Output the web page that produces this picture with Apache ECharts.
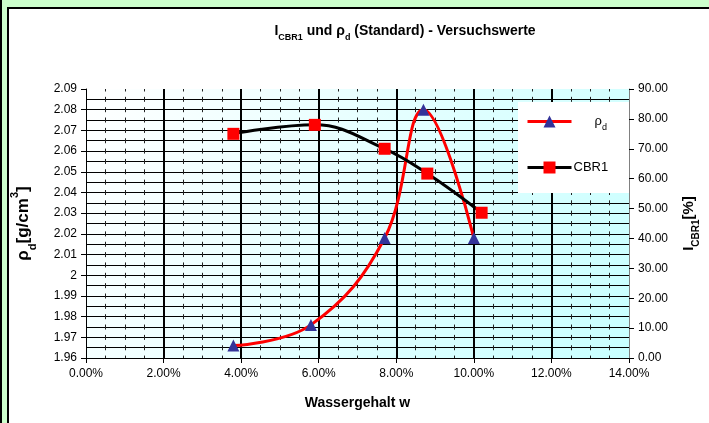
<!DOCTYPE html>
<html><head><meta charset="utf-8">
<script src="https://cdn.jsdelivr.net/npm/echarts@6/dist/echarts.min.js"></script>
<style>html,body{margin:0;padding:0;background:#ccffcc;}#c{width:709px;height:423px;}</style>
</head><body><div id="c"></div>
<script>
// Data (water content in %, density in g/cm3, CBR in %)
const wRho = [3.8, 5.8, 7.7, 8.7, 10.0];
const rho = [1.966, 1.976, 2.018, 2.080, 2.018];
const wCbr = [3.8, 5.9, 7.7, 8.8, 10.2];
const cbr = [75.0, 78.0, 70.0, 61.7, 48.6];
const xTicks = [0, 2, 4, 6, 8, 10, 12, 14];

const font = 'Liberation Sans, Arial, sans-serif';
const chart = echarts.init(document.getElementById('c'));
chart.setOption({
  backgroundColor: '#ccffcc',
  animation: false,
  graphic: [
    {type: 'rect', shape: {x: 0, y: 0, width: 2, height: 423}, style: {fill: '#000'}, z: -10, silent: true},
    {type: 'rect', shape: {x: 8, y: 8, width: 710, height: 430}, style: {fill: '#fff', stroke: '#000', lineWidth: 2}, z: -10, silent: true},
    {type: 'rect', shape: {x: 518, y: 102, width: 111, height: 91}, style: {fill: '#fff'}, z: 50, silent: true}
  ],
  title: {
    text: 'I{s|CBR1} und ρ{s|d} (Standard) - Versuchswerte',
    left: 405, textAlign: 'center', top: 24, padding: 0,
    textStyle: {fontFamily: font, fontWeight: 'bold', fontSize: 14, color: '#000',
      rich: {s: {fontFamily: font, fontWeight: 'bold', fontSize: 9, color: '#000', verticalAlign: 'bottom', padding: [0,0,-4,0]}}}
  },
  legend: [
    {data: ['ρd'], left: 526, top: 115, padding: 0, itemWidth: 44, itemHeight: 15, z: 60,
     lineStyle: {width: 3},
     formatter: () => 'ρ{s|d}',
     textStyle: {fontFamily: font, fontSize: 13, color: '#000', padding: [0,0,0,18],
       rich: {s: {fontFamily: font, fontSize: 9, color: '#000', verticalAlign: 'bottom', padding: [0,0,-4,0]}}}},
    {data: ['CBR1'], left: 526, top: 161, padding: 0, itemWidth: 44, itemHeight: 15, z: 60,
     lineStyle: {width: 3},
     textStyle: {fontFamily: font, fontSize: 13, color: '#000', padding: [0,0,0,-3]}}
  ],
  grid: {left: 86, right: 77, top: 89, bottom: 65, show: true, borderWidth: 0,
    backgroundColor: new echarts.graphic.LinearGradient(0, 0, 1, 1, [{offset: 0, color: '#ffffff'}, {offset: 1, color: '#c8ffff'}])},
  xAxis: {
    type: 'value', min: 0, max: 14, interval: 2,
    name: 'Wassergehalt w', nameLocation: 'middle', nameGap: 38,
    nameTextStyle: {fontFamily: font, fontWeight: 'bold', fontSize: 14, color: '#000'},
    axisLine: {lineStyle: {color: '#000', width: 1}},
    axisTick: {lineStyle: {color: '#000'}, length: 5},
    axisLabel: {fontFamily: font, fontSize: 12, color: '#000', margin: 10, formatter: v => v.toFixed(2) + '%'},
    splitLine: {show: true, showMinLine: false, showMaxLine: false, lineStyle: {color: '#000', width: 2}},
    minorTick: {show: false, splitNumber: 4},
    minorSplitLine: {show: true, lineStyle: {color: '#222', width: 1, type: [5, 5.35], dashOffset: 2.5}}
  },
  yAxis: [
    {
      type: 'value', min: 1.96, max: 2.09, interval: 0.01,
      name: 'ρ{s|d}[g/cm{t|3}]', nameLocation: 'middle', nameGap: 54, nameRotate: 90,
      nameTextStyle: {fontFamily: font, fontWeight: 'bold', fontSize: 17, color: '#000',
        rich: {s: {fontFamily: font, fontWeight: 'bold', fontSize: 11, color: '#000', verticalAlign: 'bottom', padding: [0,0,-6,0]},
               t: {fontFamily: font, fontWeight: 'bold', fontSize: 11, color: '#000', verticalAlign: 'top', padding: [-6,0,0,0]}}},
      axisLine: {show: true, lineStyle: {color: '#000', width: 1}},
      axisTick: {show: true, length: 5, lineStyle: {color: '#000'}},
      axisLabel: {fontFamily: font, fontSize: 12, color: '#000', margin: 9, formatter: v => String(+v.toFixed(2))},
      splitLine: {show: true, showMaxLine: false, showMinLine: false, lineStyle: {color: '#000', width: 1}},
      minorTick: {show: false, splitNumber: 2},
      minorSplitLine: {show: true, lineStyle: {color: '#000', width: 1}}
    },
    {
      type: 'value', min: 0, max: 90, interval: 10, position: 'right',
      name: 'I{s|CBR1}[%]', nameLocation: 'middle', nameGap: 52, nameRotate: 90,
      nameTextStyle: {fontFamily: font, fontWeight: 'bold', fontSize: 15, color: '#000',
        rich: {s: {fontFamily: font, fontWeight: 'bold', fontSize: 10, color: '#000', verticalAlign: 'bottom', padding: [0,0,-5,0]}}},
      axisLine: {show: true, lineStyle: {color: '#808080', width: 1}},
      axisTick: {show: true, length: 5, lineStyle: {color: '#000'}},
      axisLabel: {fontFamily: font, fontSize: 12, color: '#000', margin: 9, formatter: v => v.toFixed(2)},
      splitLine: {show: false}
    }
  ],
  series: [
    {
      name: 'ρd', type: 'line', yAxisIndex: 0, smooth: 0.4, z: 3,
      data: wRho.map((w, i) => [w, rho[i]]),
      lineStyle: {color: '#ff0000', width: 3},
      symbol: 'triangle', symbolSize: 12,
      itemStyle: {color: '#333399', borderWidth: 0}
    },
    {
      name: 'CBR1', type: 'line', yAxisIndex: 1, smooth: 0.4, z: 4,
      data: wCbr.map((w, i) => [w, cbr[i]]),
      lineStyle: {color: '#000000', width: 3},
      symbol: 'rect', symbolSize: 12,
      itemStyle: {color: '#ff0000', borderWidth: 0}
    }
  ]
});
</script></body></html>
